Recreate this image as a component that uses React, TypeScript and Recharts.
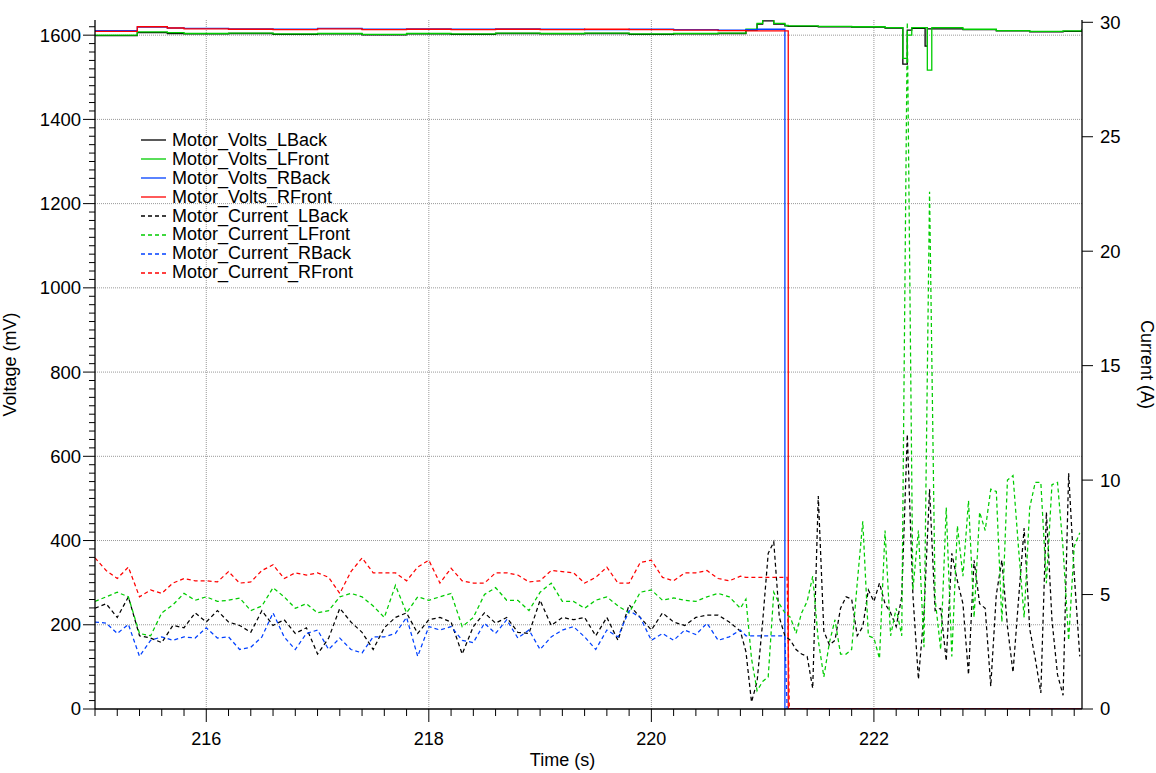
import { Legend, Line, LineChart, ReferenceLine, XAxis, YAxis } from "recharts";

const FONT = '"Liberation Sans", Arial, Helvetica, sans-serif';
const BLACK = "#000000";
const GREEN = "#00cc00";
const BLUE = "#0040ff";
const RED = "#ff0000";
const GRID = "#999999";

// uniform sample grid for the logged currents (time axis only)
function range(start: number, stop: number, step: number): number[] {
  const out: number[] = [];
  const n = Math.round((stop - start) / step);
  for (let i = 0; i <= n; i++) out.push(Math.round((start + i * step) * 1000) / 1000);
  return out;
}

const coarseTime = range(215.0, 220.7, 0.1);
const fineTime = range(220.8, 223.85, 0.05);
const currentTime = [...coarseTime, ...fineTime];
const rightCurrentTime = [...coarseTime, 220.8, 220.85, 221.2, 221.22, 221.24, 223.87];

// motor volts (mV), held between breakpoints
const voltTime = [
  215.0, 215.38, 215.65, 215.8, 216.2, 216.6, 217.0, 217.4, 217.8, 218.2, 218.6, 219.0,
  219.4, 219.8, 220.2, 220.6, 220.85, 220.95, 221.0, 221.1, 221.2, 221.23, 221.5, 221.8,
  222.1, 222.26, 222.3, 222.34, 222.46, 222.48, 222.52, 222.8, 223.1, 223.4, 223.7, 223.87,
];
const voltsLBack = [
  1599, 1606, 1604, 1603, 1604, 1602, 1603, 1601, 1603, 1602, 1604, 1603,
  1604, 1602, 1603, 1604, 1612, 1626, 1634, 1626, 1622, 1621, 1620, 1619,
  1617, 1531, 1612, 1616, 1574, 1615, 1615, 1613, 1610, 1608, 1609, 1614,
];
const voltsLFront = [
  1600, 1608, 1606, 1604, 1605, 1603, 1604, 1602, 1604, 1603, 1605, 1604,
  1605, 1603, 1604, 1605, 1614, 1628, 1638, 1628, 1623, 1622, 1621, 1620,
  1618, 1545, 1600, 1618, 1618, 1517, 1618, 1614, 1611, 1609, 1610, 1615,
];
const voltsRBack = [
  1611, 1619, 1617, 1616, 1615, 1614, 1616, 1614, 1615, 1614, 1615, 1614,
  1613, 1614, 1613, 1612, 1613, 1614, 1614, 1614, 0, 0, 0, 0,
  0, 0, 0, 0, 0, 0, 0, 0, 0, 0, 0, 0,
];
const voltsRFront = [
  1609, 1620, 1617, 1615, 1614, 1613, 1615, 1613, 1614, 1613, 1614, 1613,
  1614, 1613, 1612, 1611, 1610, 1610, 1610, 1610, 1610, 0, 0, 0,
  0, 0, 0, 0, 0, 0, 0, 0, 0, 0, 0, 0,
];

// motor currents (A)
const currentLBack = [
  4.4, 4.6, 4.0, 4.9, 3.2, 3.1, 2.9, 3.65, 3.55, 4.2,
  3.8, 4.3, 3.8, 3.65, 3.35, 4.3, 3.65, 3.9, 3.3, 3.55,
  2.4, 3.1, 4.4, 3.8, 3.35, 2.6, 3.55, 4.0, 4.2, 3.3,
  3.9, 4.0, 3.8, 2.4, 3.6, 4.2, 3.75, 4.0, 3.35, 3.3,
  4.75, 3.65, 4.0, 3.9, 4.0, 3.2, 4.0, 3.0, 4.55, 4.0,
  3.45, 4.2, 3.8, 3.65, 4.0, 4.1, 4.1, 3.8,
  3.4, 2.5, 0.3, 1.2,
  3.8, 6.8, 7.3, 4.0, 3.2, 3.0, 2.6, 2.4, 2.3, 0.9, 9.3, 3.4, 2.8, 3.0, 4.4, 4.9, 4.8, 3.2, 3.6, 5.2,
  4.7, 5.5, 4.6, 4.2, 3.6, 4.9, 12.0, 5.0, 1.3, 4.2, 9.6, 4.3, 4.4, 2.1, 6.8, 5.6, 4.6, 1.5, 6.5, 4.6,
  4.4, 1.0, 5.0, 6.5, 3.6, 1.6, 4.8, 7.9, 3.5, 2.2, 0.7, 8.6, 3.9, 1.5, 0.6, 10.3, 5.9, 2.3,
];
const currentLFront = [
  4.7, 4.9, 5.1, 4.9, 3.3, 3.2, 4.2, 4.55, 5.05, 4.75,
  4.9, 4.7, 4.75, 4.85, 4.3, 4.5, 5.3, 4.9, 4.4, 4.6,
  4.2, 4.3, 4.9, 5.05, 4.9, 4.5, 4.0, 5.4, 4.2, 4.9,
  4.75, 4.9, 5.05, 3.6, 4.0, 5.0, 5.3, 4.75, 4.75, 4.3,
  5.1, 5.5, 4.7, 4.7, 4.4, 4.75, 4.9, 4.5, 4.2, 5.1,
  5.2, 4.75, 4.85, 4.75, 4.7, 4.9, 5.05, 4.9,
  4.4, 4.8, 2.2, 0.8,
  1.2, 1.4, 5.1, 4.6, 4.2, 4.0, 3.3, 4.2, 4.7, 5.8, 3.0, 1.4, 2.9, 3.9, 2.4, 2.4, 2.6, 5.5, 8.2, 3.2,
  3.1, 2.2, 7.8, 3.2, 4.4, 3.2, 30.0, 5.2, 7.8, 2.7, 22.6, 4.8, 2.6, 8.8, 2.3, 8.0, 5.8, 9.1, 4.0, 8.6,
  7.8, 9.6, 9.5, 3.8, 10.0, 10.2, 7.0, 4.0, 8.8, 9.9, 9.9, 5.5, 9.8, 9.9, 7.0, 3.0, 7.1, 7.7,
];
const currentRBack = [
  3.8, 3.75, 3.3, 3.7, 2.3, 3.0, 3.15, 3.0, 3.15, 3.1,
  3.55, 3.1, 3.15, 2.6, 2.7, 3.15, 4.2, 3.15, 2.6, 3.3,
  3.45, 2.6, 3.1, 2.6, 2.45, 3.15, 3.15, 3.3, 4.0, 2.3,
  3.6, 3.45, 3.6, 3.0, 2.9, 3.75, 3.3, 3.9, 3.1, 3.45,
  2.6, 3.15, 3.45, 3.6, 3.15, 2.6, 3.45, 3.15, 4.3, 4.0,
  3.0, 3.3, 3.0, 3.45, 3.25, 3.75, 3.0, 3.15,
  3.45, 3.2, 3.2, 0, 0, 0,
];
const currentRFront = [
  6.6, 6.05, 5.7, 6.2, 4.9, 5.2, 5.05, 5.5, 5.7, 5.6,
  5.6, 5.55, 6.0, 5.5, 5.55, 6.05, 6.3, 5.7, 5.95, 5.85,
  5.95, 5.75, 5.05, 6.0, 6.6, 5.95, 5.95, 5.95, 5.6, 6.2,
  6.5, 5.5, 6.15, 5.6, 5.5, 5.5, 5.95, 5.95, 5.85, 5.55,
  5.6, 6.05, 6.0, 5.95, 5.5, 5.75, 6.2, 5.5, 5.5, 6.4,
  6.5, 5.75, 5.6, 5.95, 5.95, 6.05, 5.7, 5.6,
  5.8, 5.75, 5.75, 5.75, 0, 0,
];

const xTicks = range(215.0, 223.8, 0.2);
const leftTicks = range(0, 1620, 20);
const rightTicks = [0, 5, 10, 15, 20, 25, 30];
const gridVolts = [200, 400, 600, 800, 1000, 1200, 1400, 1600];
const gridTime = [216, 218, 220, 222];

const pts = (ts: number[], vs: number[]) => ts.map((t, i) => ({ t, v: vs[i] }));

const SERIES = [
  { name: "Motor_Volts_LBack", color: BLACK, dash: undefined, axis: "left", type: "stepAfter", data: pts(voltTime, voltsLBack) },
  { name: "Motor_Volts_LFront", color: GREEN, dash: undefined, axis: "left", type: "stepAfter", data: pts(voltTime, voltsLFront) },
  { name: "Motor_Volts_RBack", color: BLUE, dash: undefined, axis: "left", type: "stepAfter", data: pts(voltTime, voltsRBack) },
  { name: "Motor_Volts_RFront", color: RED, dash: undefined, axis: "left", type: "stepAfter", data: pts(voltTime, voltsRFront) },
  { name: "Motor_Current_LBack", color: BLACK, dash: "4 3", axis: "right", type: "linear", data: pts(currentTime, currentLBack) },
  { name: "Motor_Current_LFront", color: GREEN, dash: "4 3", axis: "right", type: "linear", data: pts(currentTime, currentLFront) },
  { name: "Motor_Current_RBack", color: BLUE, dash: "4 3", axis: "right", type: "linear", data: pts(rightCurrentTime, currentRBack) },
  { name: "Motor_Current_RFront", color: RED, dash: "4 3", axis: "right", type: "linear", data: pts(rightCurrentTime, currentRFront) },
];

function XTick(props: any) {
  const { x, y, payload } = props;
  const v = Math.round(payload.value * 10) / 10;
  const isInt = Math.abs(v - Math.round(v)) < 1e-6;
  const even = isInt && Math.round(v) % 2 === 0;
  return (
    <g>
      <line x1={x} y1={y} x2={x} y2={y + (even ? 13 : 7)} stroke="#000" />
      {even && (
        <text x={x} y={y + 30} dy="0.35em" textAnchor="middle" fontSize={18} fontFamily={FONT} fill="#000">
          {Math.round(v)}
        </text>
      )}
    </g>
  );
}

function LeftTick(props: any) {
  const { x, y, payload } = props;
  const major = payload.value % 200 === 0;
  return (
    <g>
      <line x1={x - (major ? 12 : 6)} y1={y} x2={x} y2={y} stroke="#000" />
      {major && (
        <text x={x - 14} y={y} dy="0.35em" textAnchor="end" fontSize={18.5} fontFamily={FONT} fill="#000">
          {payload.value}
        </text>
      )}
    </g>
  );
}

function RightTick(props: any) {
  const { x, y, payload } = props;
  return (
    <g>
      <line x1={x} y1={y} x2={x + 11} y2={y} stroke="#000" />
      <text x={x + 18} y={y} dy="0.35em" textAnchor="start" fontSize={18.5} fontFamily={FONT} fill="#000">
        {payload.value}
      </text>
    </g>
  );
}

function VoltTitle(props: any) {
  const { viewBox } = props;
  const cx = viewBox.x + 16;
  const cy = viewBox.y + viewBox.height / 2;
  return (
    <text x={cx} y={cy} transform={`rotate(-90 ${cx} ${cy})`} textAnchor="middle" fontSize={18} fontFamily={FONT} fill="#000">
      Voltage (mV)
    </text>
  );
}

function CurrentTitle(props: any) {
  const { viewBox } = props;
  const cx = viewBox.x + 59;
  const cy = viewBox.y + viewBox.height / 2;
  return (
    <text x={cx} y={cy} transform={`rotate(90 ${cx} ${cy})`} textAnchor="middle" fontSize={18} fontFamily={FONT} fill="#000">
      Current (A)
    </text>
  );
}

function TimeTitle(props: any) {
  const { viewBox } = props;
  return (
    <text x={viewBox.x + viewBox.width / 2 - 26} y={viewBox.y + 57} textAnchor="middle" fontSize={18} fontFamily={FONT} fill="#000">
      Time (s)
    </text>
  );
}

function LegendBox() {
  return (
    <div style={{ fontFamily: FONT, fontSize: 18, color: "#000" }}>
      {SERIES.map((s) => (
        <div key={s.name} style={{ display: "flex", alignItems: "center", height: 18.9 }}>
          <svg width={26} height={10} style={{ display: "block" }}>
            <line x1={1} y1={5} x2={26} y2={5} stroke={s.color} strokeWidth={1.3} strokeDasharray={s.dash} />
          </svg>
          <span style={{ marginLeft: 6, whiteSpace: "nowrap" }}>{s.name}</span>
        </div>
      ))}
    </div>
  );
}

export default function App() {
  return (
    <div style={{ position: "absolute", left: 0, top: 0, background: "#fff" }}>
      <LineChart width={1156} height={773} margin={{ top: 20, right: 0, bottom: 0, left: 0 }}>
        {gridVolts.map((v) => (
          <ReferenceLine key={`h${v}`} y={v} yAxisId="left" stroke={GRID} strokeDasharray="1 1" />
        ))}
        {gridTime.map((t) => (
          <ReferenceLine key={`v${t}`} x={t} yAxisId="left" stroke={GRID} strokeDasharray="1 1" />
        ))}
        <XAxis
          dataKey="t"
          type="number"
          domain={[215, 223.87]}
          allowDataOverflow
          ticks={xTicks}
          interval={0}
          tick={(p: any) => <XTick {...p} />}
          tickLine={false}
          tickSize={0}
          tickMargin={0}
          height={64}
          axisLine={{ stroke: "#000", strokeWidth: 1.3 }}
          label={<TimeTitle />}
        />
        <YAxis
          yAxisId="left"
          orientation="left"
          type="number"
          domain={[0, 1636]}
          allowDataOverflow
          ticks={leftTicks}
          interval={0}
          tick={(p: any) => <LeftTick {...p} />}
          tickLine={false}
          tickSize={0}
          tickMargin={0}
          width={95}
          axisLine={{ stroke: "#000", strokeWidth: 1.3 }}
          label={<VoltTitle />}
        />
        <YAxis
          yAxisId="right"
          orientation="right"
          type="number"
          domain={[0, 30.1]}
          allowDataOverflow
          ticks={rightTicks}
          interval={0}
          tick={(p: any) => <RightTick {...p} />}
          tickLine={false}
          tickSize={0}
          tickMargin={0}
          width={74}
          axisLine={{ stroke: "#000", strokeWidth: 1.3 }}
          label={<CurrentTitle />}
        />
        <Legend
          layout="vertical"
          align="center"
          verticalAlign="middle"
          content={() => <LegendBox />}
          wrapperStyle={{ left: 140, top: 131, width: 280 }}
        />
        {SERIES.map((s) => (
          <Line
            key={s.name}
            name={s.name}
            data={s.data}
            dataKey="v"
            yAxisId={s.axis}
            type={s.type as any}
            stroke={s.color}
            strokeWidth={s.dash ? 1.25 : 1.3}
            strokeDasharray={s.dash}
            dot={false}
            activeDot={false}
            isAnimationActive={false}
          />
        ))}
      </LineChart>
    </div>
  );
}
